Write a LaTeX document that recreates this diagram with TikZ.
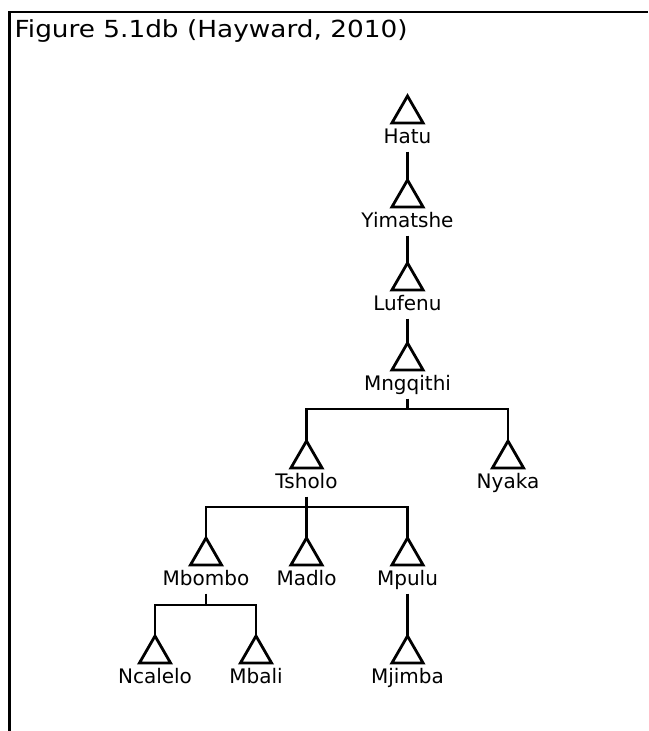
\documentclass[tikz,border=0pt]{standalone}
\usepackage{fontspec}
\setmainfont{DejaVu Sans}
\usetikzlibrary{shapes.geometric,positioning}

\tikzset{
  homme/.style={draw,regular polygon,regular polygon sides=3,minimum size=36pt,
    inner sep=0pt,outer sep=0pt,line width=2.8pt,anchor=corner 1},
  nom/.style={font=\fontsize{20}{20}\selectfont,inner sep=0pt,outer sep=3pt,
    text height=14.5pt,text depth=5pt},
  lien/.style={line width=2.8pt}
}

\begin{document}
\begin{tikzpicture}[x=1pt,y=-1pt]
   \useasboundingbox (0,0) rectangle (648,731);

   % Cadre et titre
   \draw[line width=2.7pt] (9.3,731) -- (9.3,12) -- (648,12);
   \node[anchor=base west,inner sep=0pt,font=\fontsize{23.5}{23.5}\selectfont] (titre) at (14.5,37.5)
      {\scalebox{1.12}[1]{Figure 5.1db (Hayward, 2010)}};

   % Les hommes de la lignee
   \node[homme] (hatu) at (407.5,96) {};
   \node[nom,below=3pt of hatu.south] (hatu-n) {Hatu};
   \node[homme] (yimatshe) at (407.5,180) {};
   \node[nom,below=3pt of yimatshe.south] (yimatshe-n) {Yimatshe};
   \node[homme] (lufenu) at (407.5,263) {};
   \node[nom,below=3pt of lufenu.south] (lufenu-n) {Lufenu};
   \node[homme] (mngqithi) at (407.5,343) {};
   \node[nom,below=3pt of mngqithi.south] (mngqithi-n) {Mngqithi};
   \node[homme] (tsholo) at (306.5,441) {};
   \node[nom,below=3pt of tsholo.south] (tsholo-n) {Tsholo};
   \node[homme] (nyaka) at (508,441) {};
   \node[nom,below=3pt of nyaka.south] (nyaka-n) {Nyaka};
   \node[homme] (mbombo) at (206,538) {};
   \node[nom,below=3pt of mbombo.south] (mbombo-n) {Mbombo};
   \node[homme] (madlo) at (306.5,538) {};
   \node[nom,below=3pt of madlo.south] (madlo-n) {Madlo};
   \node[homme] (mpulu) at (407.5,538) {};
   \node[nom,below=3pt of mpulu.south] (mpulu-n) {Mpulu};
   \node[homme] (ncalelo) at (155,636) {};
   \node[nom,below=3pt of ncalelo.south] (ncalelo-n) {Ncalelo};
   \node[homme] (mbali) at (256,636) {};
   \node[nom,below=3pt of mbali.south] (mbali-n) {Mbali};
   \node[homme] (mjimba) at (407.5,636) {};
   \node[nom,below=3pt of mjimba.south] (mjimba-n) {Mjimba};

   % Liens de filiation
   \coordinate (f1) at (407.5,409);
   \coordinate (f2) at (306.5,507);
   \coordinate (f3) at (206,605);
   \draw[lien] (hatu-n.south) -- (yimatshe.corner 1);
   \draw[lien] (yimatshe-n.south) -- (lufenu.corner 1);
   \draw[lien] (lufenu-n.south) -- (mngqithi.corner 1);
   \draw[lien] (mngqithi-n.south) -- (f1);
   \draw[lien] (tsholo.corner 1) |- (f1) -| (nyaka.corner 1);
   \draw[lien] (tsholo-n.south) -- (madlo.corner 1);
   \draw[lien] (mbombo.corner 1) |- (f2) -| (mpulu.corner 1);
   \draw[lien] (mbombo-n.south) -- (f3);
   \draw[lien] (ncalelo.corner 1) |- (f3) -| (mbali.corner 1);
   \draw[lien] (mpulu-n.south) -- (mjimba.corner 1);
\end{tikzpicture}
\end{document}
